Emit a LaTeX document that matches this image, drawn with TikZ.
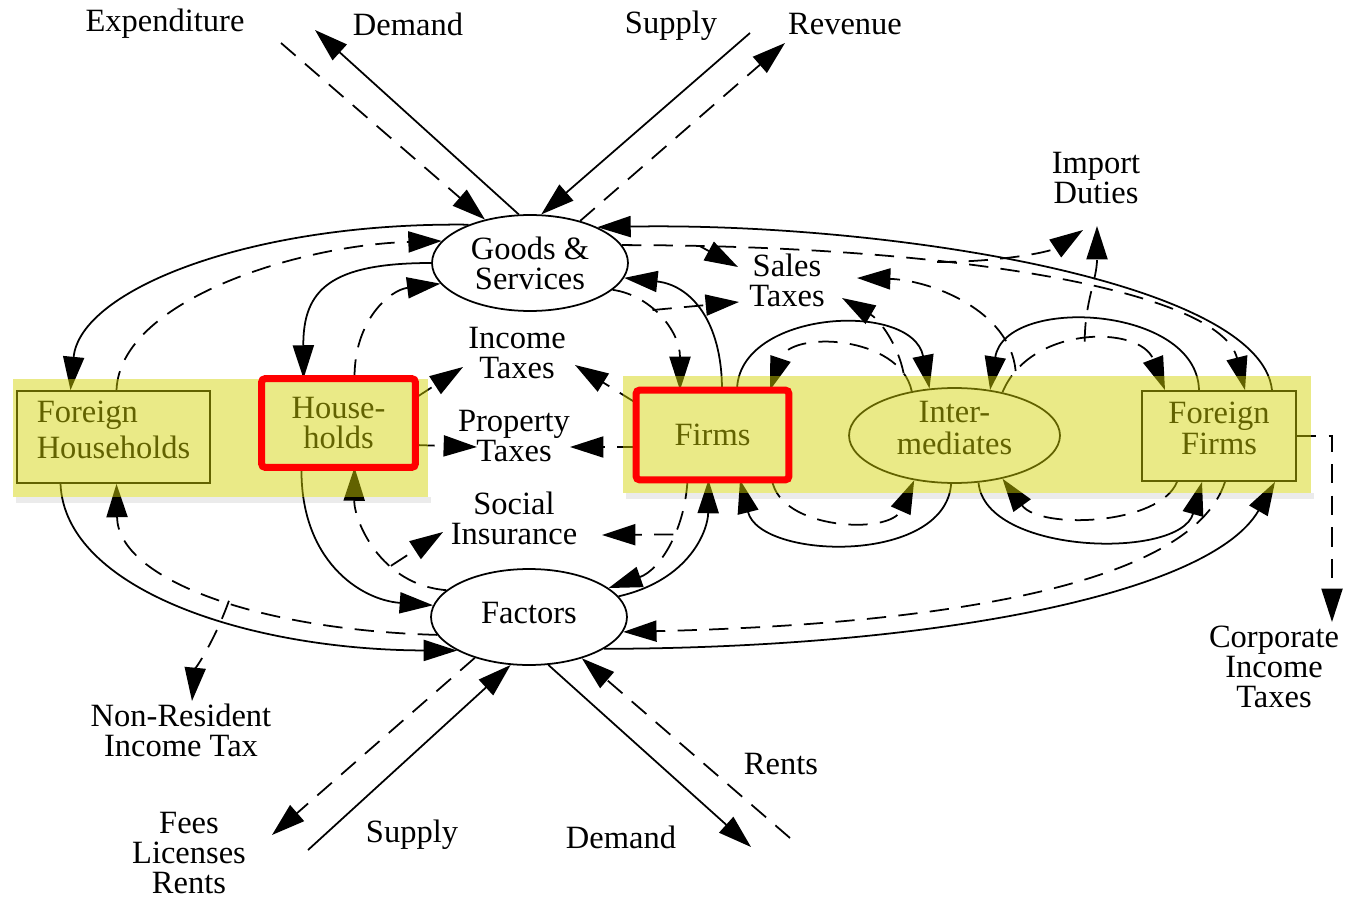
\documentclass[tikz,border=0pt]{standalone}
\usepackage{fontspec}
\setmainfont{Liberation Serif}
\usetikzlibrary{arrows.meta,calc,shapes.geometric}
\definecolor{bandyellow}{RGB}{210,210,0}
\definecolor{hlred}{RGB}{255,0,0}
\begin{document}
\begin{tikzpicture}[x=0.02cm,y=-0.02cm,
  txt/.style={font=\fontsize{18.5}{17}\selectfont, align=center, inner sep=0pt},
  shapebox/.style={txt, draw=black, line width=1pt, rectangle},
  shapeell/.style={txt, draw=black, line width=1pt, ellipse},
  flow/.style={line width=1pt, -{Triangle[length=19pt,width=12pt]}},
  money/.style={flow, dash pattern=on 11pt off 7pt},
  band/.style={fill=bandyellow, opacity=0.47},
  bandshadow/.style={fill=black, opacity=0.08},
  hlbox/.style={draw=hlred, line width=4pt, rounded corners=2pt}
]
\useasboundingbox (0,0) rectangle (1351,898);

% ---------- text labels
\node[txt] (EXP) at (165,24) {Expenditure};
\node[txt] (DEM) at (408,24) {Demand};
\node[txt] (SUP) at (671,26) {Supply};
\node[txt] (REV) at (845,24) {Revenue};
\node[txt] (ID) at (1096,178) {Import\\Duties};
\node[txt] (ST) at (787,280) {Sales\\Taxes};
\node[txt] (IT) at (517,353) {Income\\Taxes};
\node[txt] (PT) at (514,436) {Property\\Taxes};
\node[txt] (SI) at (514,518) {Social\\Insurance};
\node[txt] (NR) at (181,730) {Non-Resident\\Income Tax};
\node[txt] (FLR) at (189,853) {Fees\\Licenses\\Rents};
\node[txt] (SUPB) at (412,835) {Supply};
\node[txt] (DEMB) at (621,837) {Demand};
\node[txt] (RENT) at (781,764) {Rents};
\node[txt] (CIT) at (1274,667) {Corporate\\Income\\Taxes};

% ---------- main nodes
\node[shapeell, minimum width=3.92cm, minimum height=1.92cm] (G) at (530,263) {Goods \&\\Services};
\node[shapeell, minimum width=3.92cm, minimum height=1.92cm] (F) at (529,617) {\raisebox{2pt}[\height][\depth]{Factors}};
\node[shapebox, font=\fontsize{18.5}{20}\selectfont, minimum width=3.86cm, minimum height=1.84cm] (FH) at (113.5,437) {\raisebox{2pt}[\height][\depth]{\begin{tabular}{@{}l@{}}Foreign\\Households\end{tabular}}};
\node[shapebox, minimum width=3.04cm, minimum height=1.74cm] (H) at (338.5,423) {House-\\holds};
\node[shapebox, minimum width=3.02cm, minimum height=1.76cm] (Fi) at (712.5,435) {Firms};
\node[shapeell, minimum width=4.22cm, minimum height=1.90cm] (I) at (954.5,435.5) {\raisebox{1.8pt}[\height][\depth]{\begin{tabular}{@{}c@{}}Inter-\\mediates\end{tabular}}};
\node[shapebox, minimum width=3.08cm, minimum height=1.80cm] (FF) at (1219,436) {\raisebox{2pt}[\height][\depth]{\begin{tabular}{@{}c@{}}Foreign\\Firms\end{tabular}}};

% ---------- top flows
\coordinate (demT) at (315,30);
\coordinate (expT) at (281,43);
\coordinate (supT) at (750,33);
\coordinate (revT) at (785,43);
\draw[flow] (G.103) -- (demT);
\draw[money] (expT) -- (G.136);
\draw[flow] (supT) -- (G.77);
\draw[money] (G.40) -- (revT);

% ---------- bottom flows
\coordinate (feeB) at (272,835);
\coordinate (supB) at (308,850);
\coordinate (demB) at (751,847);
\coordinate (rentB) at (790,838);
\draw[money] (F.217) -- (feeB);
\draw[flow] (supB) -- (F.249);
\draw[flow] (F.292) -- (demB);
\draw[money] (rentB) -- (F.322);

% ---------- Goods - Foreign Households
\draw[flow] (G.148) .. controls (250,222) and (80,290) .. ($(FH.north)+(-43,0)$);
\draw[money] ($(FH.north)+(3,0)$) .. controls (120,300) and (300,245) .. (G.166);

% ---------- Goods - Households
\draw[flow] (G.180) .. controls (330,263) and (303,290) .. ($(H.north)+(-35,0)$);
\draw[money] ($(H.north)+(16,0)$) .. controls (354,320) and (390,290) .. (G.193);

% ---------- Households - Factors
\draw[flow] ($(H.south)+(-37,0)$) .. controls (300,560) and (360,600) .. (F.173);
\draw[money] (F.162) .. controls (380,585) and (354,520) .. ($(H.south)+(16,0)$) coordinate[pos=0.35] (sib1);

% ---------- Foreign Households - Factors
\draw[money] (F.191) .. controls (260,630) and (118,580) .. ($(FH.south)+(3,0)$) coordinate[pos=0.45] (nrb);
\draw[flow] ($(FH.south)+(-53,0)$) .. controls (65,590) and (250,650) .. (F.205);
\draw[money] (nrb) .. controls (215,640) and (195,670) .. ($(NR)+(11,-29)$);

% ---------- Factors - Firms
\draw[flow] (F.13) .. controls (690,580) and (708,530) .. ($(Fi.south)+(-4,0)$);
\draw[money] ($(Fi.south)+(-25,0)$) .. controls (685,530) and (660,570) .. (F.20) coordinate[pos=0.4] (sib2);
\draw[money] (sib1) -- ($(SI)+(-71,14)$);
\draw[money] (sib2) -- ($(SI)+(88,17)$);

% ---------- Goods - Firms
\draw[flow] ($(Fi.north)+(9.5,0)$) .. controls (722,320) and (690,285) .. (G.351);
\draw[money] (G.342) .. controls (650,295) and (680,330) .. ($(Fi.north)+(-32.5,0)$) coordinate[pos=0.4] (stb1);
\draw[money] (stb1) -- ($(ST)+(-48,22)$);

% ---------- Goods - Foreign Firms
\draw[money] (G.11) .. controls (950,245) and (1220,290) .. ($(FF.north)+(26,0)$) coordinate[pos=0.08] (stb0) coordinate[pos=0.35] (idb1);
\draw[money] (stb0) -- ($(ST)+(-49,-13)$);
\draw[money] (idb1) .. controls (1000,262) and (1050,252) .. ($(ID)+(-13,52)$);
\draw[flow] ($(FF.north)+(53,0)$) .. controls (1260,280) and (880,222) .. (G.28);

% ---------- Firms - Intermediates
\draw[flow] ($(Fi.north)+(24.5,0)$) .. controls (738,310) and (912,300) .. (I.118);
\draw[money] (I.134) .. controls (900,335) and (790,330) .. ($(Fi.north)+(57.5,0)$) coordinate[pos=0.12] (stb3);
\draw[money] (stb3) .. controls (898,345) and (880,320) .. ($(ST)+(55,18)$);
\draw[flow] (I.266) .. controls (945,565) and (760,560) .. ($(Fi.south)+(27.5,0)$);
\draw[money] ($(Fi.south)+(59.5,0)$) .. controls (780,530) and (890,535) .. (I.228);

% ---------- Intermediates - Foreign Firms
\draw[flow] ($(FF.north)+(-20,0)$) .. controls (1197,305) and (1005,295) .. (I.52);
\draw[money] (I.42) .. controls (1030,325) and (1140,325) .. ($(FF.north)+(-54,0)$) coordinate[pos=0.12] (stb2) coordinate[pos=0.5] (idb2);
\draw[money] (stb2) .. controls (1010,310) and (930,280) .. ($(ST)+(70,-2)$);
\draw[money] (idb2) .. controls (1085,300) and (1097,280) .. ($(ID)+(1,48)$);
\draw[money] ($(FF.south)+(-42,0)$) .. controls (1160,525) and (1040,530) .. (I.318);
\draw[flow] (I.297) .. controls (985,555) and (1180,560) .. ($(FF.south)+(-17,0)$);

% ---------- Foreign Firms - Factors
\draw[money] ($(FF.south)+(6,0)$) .. controls (1190,590) and (920,625) .. (F.351);
\draw[flow] (F.337) .. controls (930,648) and (1210,595) .. ($(FF.south)+(56,0)$);

% ---------- taxes
\draw[money] ($(H.east)+(0,-25)$) -- ($(IT)+(-54,14)$);
\draw[money] ($(Fi.west)+(0,-32)$) -- ($(IT)+(58,12)$);
\draw[money] ($(H.east)+(0,22)$) -- ($(PT)+(-37,11)$);
\draw[money] ($(Fi.west)+(0,12)$) -- ($(PT)+(56,11)$);
\draw[money] (FF.east) -| ($(CIT)+(58,-45)$);

% ---------- highlight bands
\fill[bandshadow] (16,497) rectangle (431,503);
\fill[bandshadow] (626,493) rectangle (1314,499);
\fill[band] (13,379) rectangle (428,497);
\fill[band] (623,376) rectangle (1311,493);
\draw[hlbox] (H.north west) rectangle (H.south east);
\draw[hlbox] (Fi.north west) rectangle (Fi.south east);
\end{tikzpicture}
\end{document}
